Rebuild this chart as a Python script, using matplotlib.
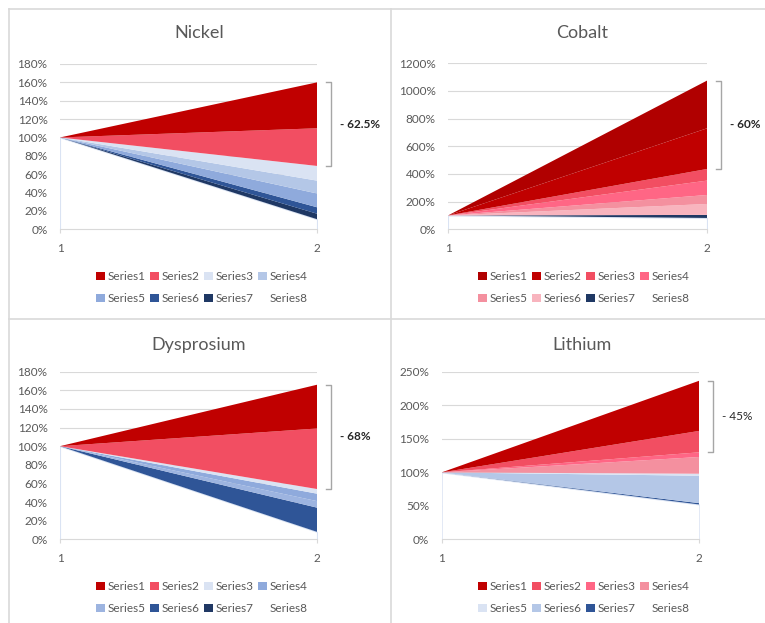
import matplotlib
matplotlib.use("Agg")
import matplotlib.pyplot as plt
from matplotlib.patches import Patch
from matplotlib.lines import Line2D
from matplotlib.ticker import FuncFormatter

plt.rcParams['font.family'] = ['Lato', 'DejaVu Sans']

x_vals = [1, 2]
series_names = ['Series1', 'Series2', 'Series3', 'Series4',
                'Series5', 'Series6', 'Series7', 'Series8']

# values (%) per series at point 1 and point 2, Series1..Series8
nickel_start = [0, 0, 0, 0, 0, 0, 0, 100]
nickel_end = [50, 41, 16, 14, 15, 7, 6, 11]
cobalt_start = [0, 0, 0, 0, 0, 0, 0, 100]
cobalt_end = [345, 294, 84, 104, 65, 79, 22, 82]
dysprosium_start = [0, 0, 0, 0, 0, 0, 0, 100]
dysprosium_end = [47, 65, 5, 8, 7, 26, 0, 8]
lithium_start = [0, 0, 0, 0, 0, 0, 0, 100]
lithium_end = [75, 32, 7, 25, 3, 41, 2, 52]

bracket_labels = ['- 62.5%', '- 60%', '- 68%', '- 45%']

nickel_colors = ['#C00000', '#F24E62', '#DAE3F3', '#B4C7E7', '#8FAADC', '#2F5597', '#1F3864', 'white']
cobalt_colors = ['#B00000', '#C00000', '#F24E62', '#FF6685', '#F4909F', '#F8B4BE', '#1F3864', 'white']
dysprosium_colors = ['#C00000', '#F24E62', '#DAE3F3', '#8FAADC', '#9DB4E0', '#2F5597', '#203864', 'white']
lithium_colors = ['#C00000', '#F24E62', '#FF6685', '#F4909F', '#DAE3F3', '#B4C7E7', '#2F5597', 'white']

gray = '#595959'
grid = '#D9D9D9'

fig = plt.figure(figsize=(7.65, 6.23), dpi=100)

# chart borders (pixel coords -> figure fractions)
W, H = 765.0, 623.0
def fx(px): return px / W
def fy(py): return 1 - py / H
for xs, ys in [([9, 765], [9, 9]), ([9, 9], [9, 623]), ([391, 391], [9, 623]), ([9, 765], [319, 319])]:
    fig.add_artist(Line2D([fx(v) for v in xs], [fy(v) for v in ys], color=grid, lw=1.2))

charts = [
    ('Nickel', nickel_start, nickel_end, nickel_colors, [60, 64, 317, 229.3], range(0, 181, 20), 180, 199, 33, 202, 287.5),
    ('Cobalt', cobalt_start, cobalt_end, cobalt_colors, [448, 63.3, 707, 229.3], range(0, 1201, 200), 1200, 582, 33, 584, 287.5),
    ('Dysprosium', dysprosium_start, dysprosium_end, dysprosium_colors, [60, 371.7, 317, 539.3], range(0, 181, 20), 180, 199, 345, 202, 597.5),
    ('Lithium', lithium_start, lithium_end, lithium_colors, [441.7, 372, 699.3, 539.3], range(0, 251, 50), 250, 582, 345, 584, 597.5),
]

for i, (name, start, end, colors, box, ticks, ymax, tx, ty, lx, ly) in enumerate(charts):
    l, t, r, b = box
    ax = fig.add_axes([fx(l), fy(b), fx(r) - fx(l), fy(t) - fy(b)])
    # stack from bottom: Series8 (base) up to Series1
    ys = [[start[k], end[k]] for k in range(7, -1, -1)]
    cols = colors[::-1]
    polys = ax.stackplot(x_vals, ys, colors=cols, zorder=2)
    polys[0].set_edgecolor('#DAE3F3')
    polys[0].set_linewidth(0.8)
    ax.set_xlim(1, 2)
    ax.set_ylim(0, ymax)
    ax.set_yticks(list(ticks))
    ax.yaxis.set_major_formatter(FuncFormatter(lambda v, p: '%d%%' % v))
    ax.set_xticks(x_vals)
    ax.grid(axis='y', color=grid, lw=0.8, zorder=0)
    ax.set_axisbelow(True)
    for s in ['top', 'right', 'left']:
        ax.spines[s].set_visible(False)
    ax.spines['bottom'].set_color(grid)
    ax.tick_params(axis='y', length=0, pad=9, labelsize=8.5, labelcolor=gray)
    ax.tick_params(axis='x', length=3, color=grid, pad=7, labelsize=8.5, labelcolor=gray)

    fig.text(fx(tx), fy(ty), name, ha='center', va='center', fontsize=13, color=gray)

    # bracket over Series1 + Series2 at point 2
    top = sum(end)
    bottom = top - end[0] - end[1]
    ax.plot([2.035, 2.055, 2.055, 2.035], [top, top, bottom, bottom],
            color='#A6A6A6', lw=1, clip_on=False)
    weight = 'normal' if name == 'Lithium' else 'bold'
    ax.text(2.09, (top + bottom) / 2, bracket_labels[i], ha='left', va='center',
            fontsize=8.5, color='#262626', fontweight=weight, clip_on=False)

    handles = []
    for k in range(8):
        if k == 7:
            handles.append(Patch(facecolor='none', edgecolor='none', label=series_names[k]))
        else:
            handles.append(Patch(facecolor=colors[k], edgecolor='none', label=series_names[k]))
    order = [0, 4, 1, 5, 2, 6, 3, 7]
    ax.legend([handles[k] for k in order], [series_names[k] for k in order],
              loc='center', bbox_to_anchor=(fx(lx), fy(ly)), bbox_transform=fig.transFigure,
              ncol=4, frameon=False, fontsize=8.5, labelcolor=gray,
              handlelength=0.7, handleheight=0.7, handletextpad=0.25,
              columnspacing=0.4, labelspacing=0.9)

fig.savefig('out.png', dpi=100)
